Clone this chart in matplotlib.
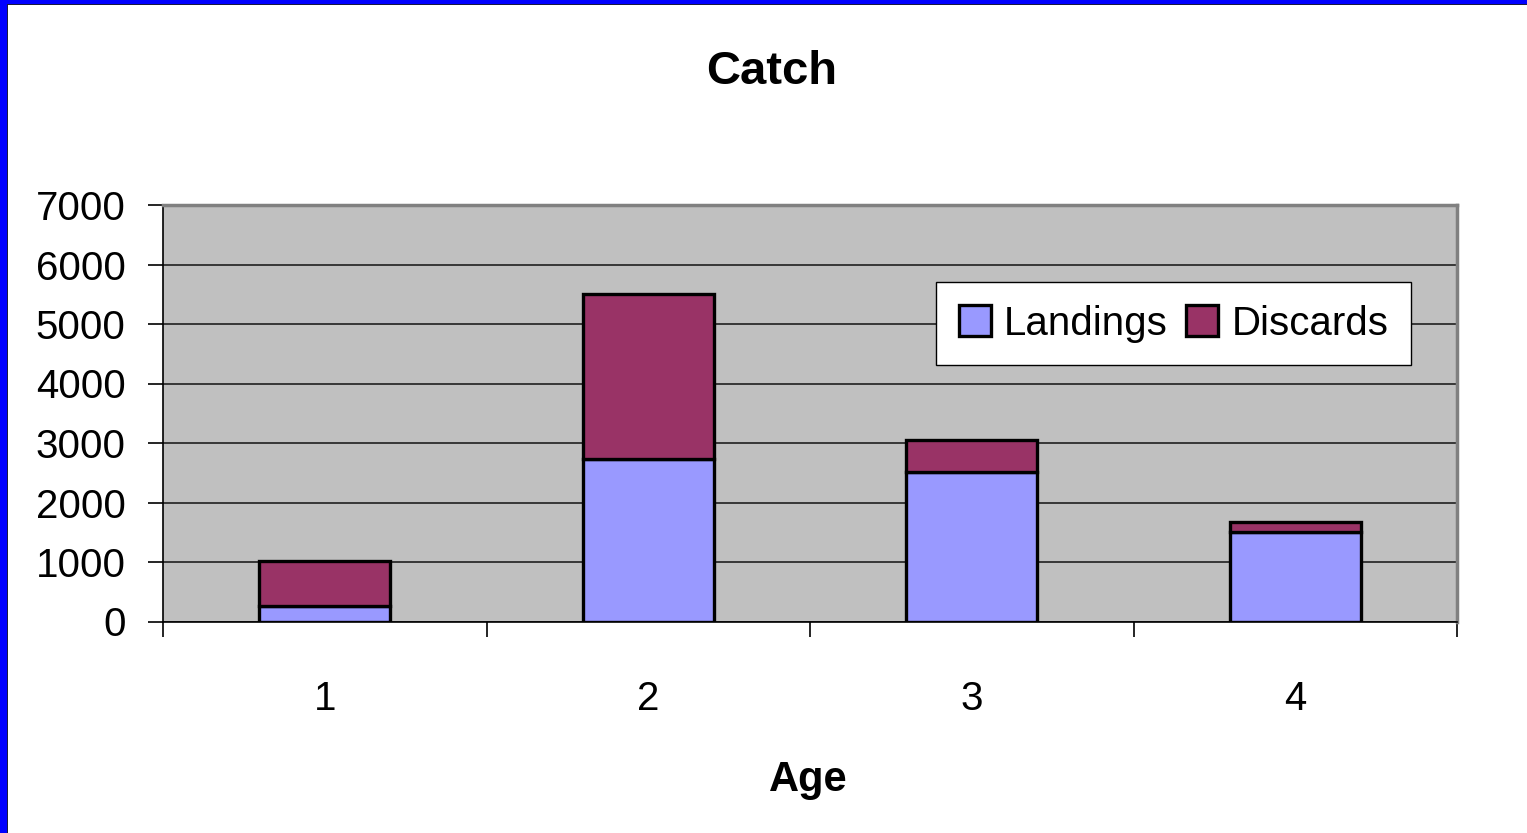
import matplotlib
matplotlib.use("Agg")
import matplotlib.pyplot as plt
from matplotlib.patches import Rectangle
import numpy as np

plt.rcParams['font.family'] = ['Liberation Sans', 'DejaVu Sans']

ages = ["1", "2", "3", "4"]
landings = [260, 2730, 2520, 1500]
discards = [750, 2780, 525, 165]
y_ticks = [0, 1000, 2000, 3000, 4000, 5000, 6000, 7000]

W, H = 1527, 833
fig = plt.figure(figsize=(W / 100, H / 100), dpi=100)
fig.patch.set_facecolor("white")

# blue frame along left and top edges
fig.add_artist(Rectangle((0, 0), 7 / W, 1, transform=fig.transFigure,
                         facecolor="#0000FF", edgecolor="none", zorder=10))
fig.add_artist(Rectangle((0, 1 - 4 / H), 1, 4 / H, transform=fig.transFigure,
                         facecolor="#0000FF", edgecolor="none", zorder=10))
fig.add_artist(Rectangle((7 / W, 0), 1.2 / W, 1 - 4 / H, transform=fig.transFigure,
                         facecolor="#1a1a40", edgecolor="none", zorder=10))
fig.add_artist(Rectangle((7 / W, 1 - 5.2 / H), 1, 1.2 / H, transform=fig.transFigure,
                         facecolor="#1a1a40", edgecolor="none", zorder=10))

ax = fig.add_axes([163 / W, 1 - 621.5 / H, (1457 - 163) / W, (621.5 - 205) / H])
ax.set_facecolor("#C0C0C0")

x = np.arange(len(ages))
width = 0.405
ax.bar(x, landings, width, color="#9999FF", edgecolor="black", linewidth=2.4,
       label="Landings", zorder=3)
ax.bar(x, discards, width, bottom=landings, color="#993366", edgecolor="black",
       linewidth=2.4, label="Discards", zorder=3)

ax.set_xlim(-0.5, len(ages) - 0.5)
ax.set_ylim(0, 7000)
ax.set_yticks(y_ticks)
ax.set_yticklabels([str(v) for v in y_ticks], fontsize=29)
ax.yaxis.grid(True, color="#202020", linewidth=1.2, zorder=1)
ax.set_axisbelow(True)

# category labels at centres, tick marks on category boundaries
ax.set_xticks(x)
ax.set_xticklabels(ages, fontsize=29)
ax.set_xticks(np.arange(-0.5, len(ages)), minor=True)
ax.tick_params(axis="x", which="major", length=0, pad=42)
ax.tick_params(axis="x", which="minor", length=11, width=1.2, direction="out",
               color="black")
ax.tick_params(axis="y", length=11, width=1.2, direction="out", pad=16)

for side in ("top", "right"):
    ax.spines[side].set_color("#808080")
    ax.spines[side].set_linewidth(2.5)
for side in ("left", "bottom"):
    ax.spines[side].set_color("black")
    ax.spines[side].set_linewidth(1.2)

fig.text(772 / W, 1 - 72 / H, "Catch", ha="center", va="center",
         fontsize=34, fontweight="bold")
fig.text(808 / W, 1 - 780 / H, "Age", ha="center", va="center",
         fontsize=30, fontweight="bold")

leg = ax.legend(loc="upper left", bbox_to_anchor=(936 / W, 1 - 282 / H),
                bbox_transform=fig.transFigure, ncol=2, fontsize=29,
                frameon=True, fancybox=False, shadow=False,
                handlelength=0.8, handleheight=0.8, handletextpad=0.33,
                columnspacing=0.45, borderpad=0.56, borderaxespad=0)
leg.get_frame().set_edgecolor("black")
leg.get_frame().set_linewidth(1.0)
leg.get_frame().set_facecolor("white")
leg.get_frame().set_alpha(1)

fig.savefig("out.png", dpi=100, facecolor=fig.get_facecolor())
